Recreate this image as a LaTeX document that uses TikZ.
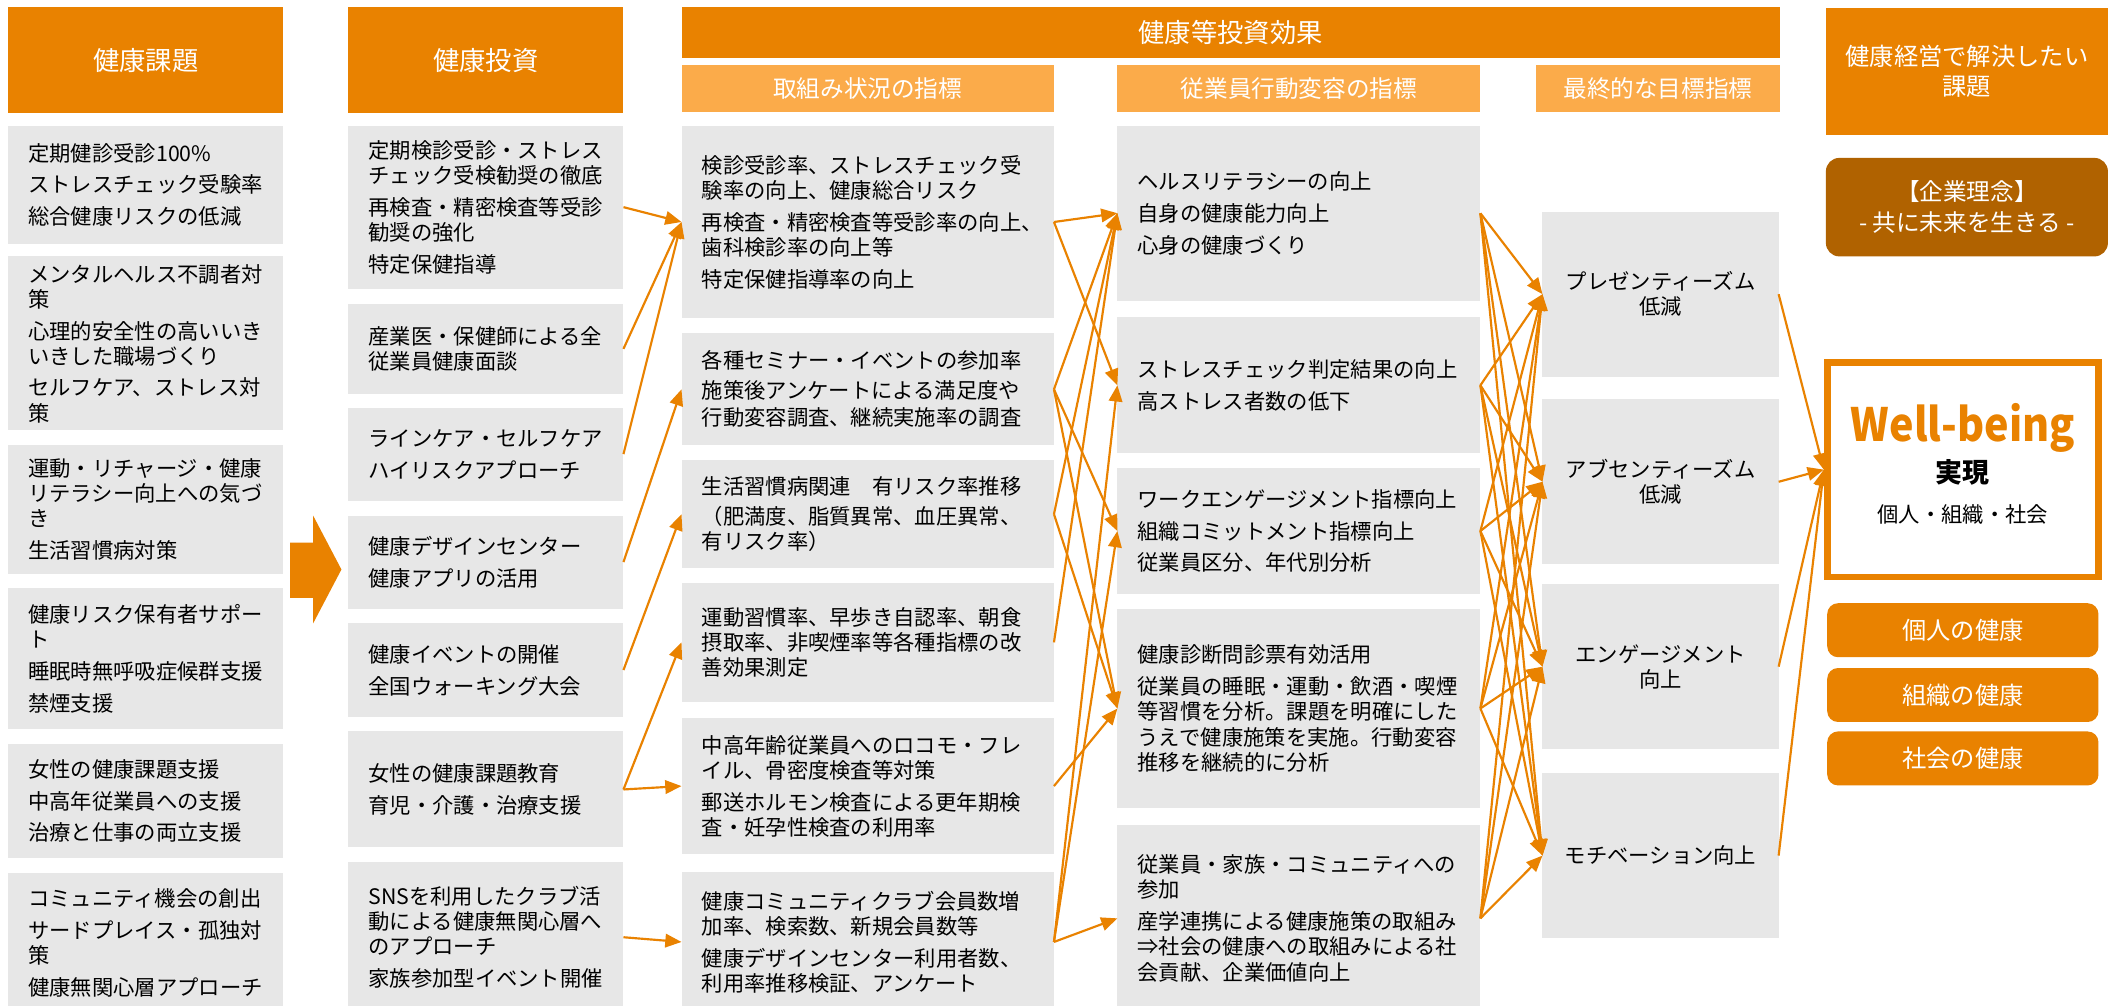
\documentclass[tikz,border=0pt]{standalone}
\usepackage{fontspec}
\setmainfont{Noto Sans CJK JP}
\usetikzlibrary{arrows.meta}
\definecolor{kenko}{RGB}{233,130,0}
\definecolor{kenkolight}{RGB}{251,171,74}
\definecolor{rinen}{RGB}{176,98,0}
\definecolor{cellgray}{RGB}{231,231,231}
\newcommand{\bodysz}{\fontsize{15.8}{18.6}\selectfont}
\newcommand{\headsz}{\fontsize{19.5}{23}\selectfont}
\newcommand{\subsz}{\fontsize{17.5}{22}\selectfont}

\begin{document}
\begin{tikzpicture}[x=1pt,y=-1pt,>={Triangle[length=12pt,width=10pt]},
   head/.style={fill=kenko,text=white,font=\headsz,align=center,anchor=north west,inner sep=0pt,outer sep=0pt},
   subhead/.style={head,fill=kenkolight,font=\subsz,minimum height=35pt},
   cell/.style={fill=cellgray,font=\bodysz,align=left,anchor=north west,inner xsep=15pt,inner ysep=0pt,outer sep=0pt},
   issue/.style={cell,minimum width=204pt,text width=174pt},
   invest/.style={cell,minimum width=204pt,text width=174pt},
   action/.style={cell,minimum width=276pt,text width=246pt},
   change/.style={cell,minimum width=269pt,text width=239pt},
   goal/.style={cell,align=center,inner xsep=5pt,minimum width=175pt,text width=165pt,minimum height=122pt},
   health/.style={head,rounded corners=8pt,font=\fontsize{18}{22}\selectfont,minimum width=201pt,minimum height=40pt},
   link/.style={->,draw=kenko,line width=1.6pt}]
   \useasboundingbox[fill=white] (0,0) rectangle (1568,745);
   % headers
   \node[head,minimum width=204pt,minimum height=79pt] (issueh) at (6,5) {健康課題};
   \node[head,minimum width=204pt,minimum height=79pt] (investh) at (258,5) {健康投資};
   \node[head,minimum width=814pt,minimum height=38pt] (effecth) at (505,5) {健康等投資効果};
   \node[subhead,minimum width=276pt] (actionh) at (505,48) {取組み状況の指標};
   \node[subhead,minimum width=269pt] (changeh) at (828,48) {従業員行動変容の指標};
   \node[subhead,minimum width=181pt] (goalh) at (1138,48) {最終的な目標指標};
   \node[head,font=\fontsize{18}{22}\selectfont,minimum width=209pt,minimum height=94pt] (aimh) at (1353,6) {健康経営で解決したい\\課題};
   \node[head,fill=rinen,rounded corners=10pt,font=\fontsize{17.5}{23}\selectfont,minimum width=209pt,minimum height=73pt] (motto) at (1353,117) {【企業理念】\\- 共に未来を生きる -};
   % health issues
   \node[issue,minimum height=88pt] (issue1) at (6,93) {定期健診受診100\%\\[5pt]ストレスチェック受験率\\[5pt]総合健康リスクの低減};
   \node[issue,minimum height=129pt] (issue2) at (6,190) {メンタルヘルス不調者対\\策\\[5pt]心理的安全性の高いいき\\いきした職場づくり\\[5pt]セルフケア、ストレス対\\策};
   \node[issue,minimum height=95pt] (issue3) at (6,330) {運動・リチャージ・健康\\リテラシー向上への気づ\\き\\[5pt]生活習慣病対策};
   \node[issue,minimum height=104pt] (issue4) at (6,436) {健康リスク保有者サポー\\ト\\[5pt]睡眠時無呼吸症候群支援\\[5pt]禁煙支援};
   \node[issue,minimum height=85pt] (issue5) at (6,551) {女性の健康課題支援\\[5pt]中高年従業員への支援\\[5pt]治療と仕事の両立支援};
   \node[issue,minimum height=103pt] (issue6) at (6,647) {コミュニティ機会の創出\\[5pt]サードプレイス・孤独対\\策\\[5pt]健康無関心層アプローチ};
   \fill[kenko] (215,402) -- (232,402) -- (232,382) -- (253,422) -- (232,462) -- (232,443) -- (215,443) -- cycle;
   % investments
   \node[invest,minimum height=121pt] (invest1) at (258,93) {定期検診受診・ストレス\\チェック受検勧奨の徹底\\[5pt]再検査・精密検査等受診\\勧奨の強化\\[5pt]特定保健指導};
   \node[invest,minimum height=67pt] (invest2) at (258,225) {産業医・保健師による全\\従業員健康面談};
   \node[invest,minimum height=69pt] (invest3) at (258,302) {ラインケア・セルフケア\\[5pt]ハイリスクアプローチ};
   \node[invest,minimum height=69pt] (invest4) at (258,382) {健康デザインセンター\\[5pt]健康アプリの活用};
   \node[invest,minimum height=69pt] (invest5) at (258,462) {健康イベントの開催\\[5pt]全国ウォーキング大会};
   \node[invest,minimum height=86pt] (invest6) at (258,542) {女性の健康課題教育\\[5pt]育児・介護・治療支援};
   \node[invest,minimum height=111pt] (invest7) at (258,639) {SNSを利用したクラブ活\\動による健康無関心層へ\\のアプローチ\\[5pt]家族参加型イベント開催};
   % indicators
   \node[action,minimum height=143pt] (action1) at (505,93) {検診受診率、ストレスチェック受\\験率の向上、健康総合リスク\\[5pt]再検査・精密検査等受診率の向上、\\歯科検診率の向上等\\[5pt]特定保健指導率の向上};
   \node[action,minimum height=83pt] (action2) at (505,247) {各種セミナー・イベントの参加率\\[3pt]施策後アンケートによる満足度や\\[2pt]行動変容調査、継続実施率の調査};
   \node[action,minimum height=80pt] (action3) at (505,341) {生活習慣病関連　有リスク率推移\\[3pt]（肥満度、脂質異常、血圧異常、\\有リスク率）};
   \node[action,minimum height=88pt] (action4) at (505,432) {運動習慣率、早歩き自認率、朝食\\摂取率、非喫煙率等各種指標の改\\善効果測定};
   \node[action,minimum height=101pt] (action5) at (505,532) {中高年齢従業員へのロコモ・フレ\\イル、骨密度検査等対策\\[5pt]郵送ホルモン検査による更年期検\\査・妊孕性検査の利用率};
   \node[action,minimum height=104pt] (action6) at (505,646) {健康コミュニティクラブ会員数増\\加率、検索数、新規会員数等\\[5pt]健康デザインセンター利用者数、\\利用率推移検証、アンケート};
   \node[change,minimum height=130pt] (change1) at (828,93) {ヘルスリテラシーの向上\\[5pt]自身の健康能力向上\\[5pt]心身の健康づくり};
   \node[change,minimum height=101pt] (change2) at (828,235) {ストレスチェック判定結果の向上\\[5pt]高ストレス者数の低下};
   \node[change,minimum height=93pt] (change3) at (828,347) {ワークエンゲージメント指標向上\\[5pt]組織コミットメント指標向上\\[5pt]従業員区分、年代別分析};
   \node[change,minimum height=148pt] (change4) at (828,451) {健康診断問診票有効活用\\[5pt]従業員の睡眠・運動・飲酒・喫煙\\等習慣を分析。課題を明確にした\\うえで健康施策を実施。行動変容\\推移を継続的に分析};
   \node[change,minimum height=139pt] (change5) at (828,611) {従業員・家族・コミュニティへの\\参加\\[5pt]産学連携による健康施策の取組み\\⇒社会の健康への取組みによる社\\会貢献、企業価値向上};
   \node[goal] (goal1) at (1143,157) {プレゼンティーズム\\低減};
   \node[goal] (goal2) at (1143,296) {アブセンティーズム\\低減};
   \node[goal] (goal3) at (1143,433) {エンゲージメント\\向上};
   \node[goal] (goal4) at (1143,573) {モチベーション向上};
   % well-being
   \node[draw=kenko,line width=5pt,anchor=north west,inner sep=0pt,minimum width=201pt,minimum height=159pt] (wb) at (1351.5,266) {};
   \node[text=kenko,font=\fontsize{34}{36}\selectfont\bfseries,anchor=base] (wbname) at (1454.5,327) {\scalebox{0.9}[1]{Well-being}};
   \node[font=\fontsize{20}{24}\selectfont\bfseries] (wbreal) at (1454.5,350) {実現};
   \node[font=\bodysz] (wbscope) at (1454.5,381) {個人・組織・社会};
   \node[health] (kojin) at (1354,447) {個人の健康};
   \node[health] (soshiki) at (1354,495) {組織の健康};
   \node[health] (shakai) at (1354,542) {社会の健康};
   % investments -> indicators
   \draw[link] (invest1.east) -- (action1.west);
   \draw[link] (invest2.east) -- (action1.west);
   \draw[link] (invest3.east) -- (action1.west);
   \draw[link] (invest4.east) -- (action2.west);
   \draw[link] (invest5.east) -- (action3.west);
   \draw[link] (invest6.east) -- (action4.west);
   \draw[link] (invest6.east) -- (action5.west);
   \draw[link] (invest7.east) -- (action6.west);
   % indicators -> behaviour change
   \draw[link] (action1.east) -- (change1.west);
   \draw[link] (action1.east) -- (change2.west);
   \draw[link] (action2.east) -- (change1.west);
   \draw[link] (action2.east) -- (change3.west);
   \draw[link] (action2.east) -- (change4.west);
   \draw[link] (action3.east) -- (change1.west);
   \draw[link] (action3.east) -- (change4.west);
   \draw[link] (action4.east) -- (change1.west);
   \draw[link] (action5.east) -- (change4.west);
   \draw[link] (action6.east) -- (change2.west);
   \draw[link] (action6.east) -- (change3.west);
   \draw[link] (action6.east) -- (change5.west);
   % behaviour change -> goals
   \draw[link] (change1.east) -- (goal1.west);
   \draw[link] (change1.east) -- (goal2.west);
   \draw[link] (change1.east) -- (goal3.west);
   \draw[link] (change1.east) -- (goal4.west);
   \draw[link] (change2.east) -- (goal1.west);
   \draw[link] (change2.east) -- (goal2.west);
   \draw[link] (change2.east) -- (goal3.west);
   \draw[link] (change2.east) -- (goal4.west);
   \draw[link] (change3.east) -- (goal1.west);
   \draw[link] (change3.east) -- (goal2.west);
   \draw[link] (change3.east) -- (goal3.west);
   \draw[link] (change3.east) -- (goal4.west);
   \draw[link] (change4.east) -- (goal1.west);
   \draw[link] (change4.east) -- (goal2.west);
   \draw[link] (change4.east) -- (goal3.west);
   \draw[link] (change4.east) -- (goal4.west);
   \draw[link] (change5.east) -- (goal1.west);
   \draw[link] (change5.east) -- (goal2.west);
   \draw[link] (change5.east) -- (goal3.west);
   \draw[link] (change5.east) -- (goal4.west);
   % goals -> well-being
   \draw[link] (goal1.east) -- (wb.west);
   \draw[link] (goal2.east) -- (wb.west);
   \draw[link] (goal3.east) -- (wb.west);
   \draw[link] (goal4.east) -- (wb.west);
\end{tikzpicture}
\end{document}
